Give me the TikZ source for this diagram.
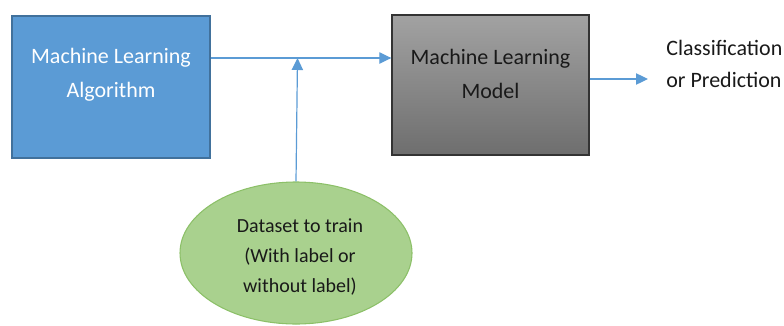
\documentclass[tikz,border=0pt]{standalone}
\usepackage{fontspec}
\setmainfont{Carlito}
\usetikzlibrary{arrows.meta,shapes.geometric}
\definecolor{bluefill}{HTML}{5B9BD5}
\definecolor{blueline}{HTML}{41719C}
\definecolor{arrowblue}{HTML}{5B9BD5}
\definecolor{greenfill}{HTML}{A9D18E}
\definecolor{greenline}{HTML}{8CC068}
\definecolor{graytop}{HTML}{A2A2A2}
\definecolor{graybot}{HTML}{6E6E6E}
\tikzset{
  algbox/.style={draw=blueline, line width=1.5pt, fill=bluefill, minimum width=198*0.75pt, minimum height=142*0.75pt, inner sep=0pt},
  modelbox/.style={draw=black!80, line width=1pt, top color=graytop, bottom color=graybot, minimum width=197*0.75pt, minimum height=140*0.75pt, inner sep=0pt},
  dataell/.style={ellipse, draw=greenline, line width=0.8pt, fill=greenfill, minimum width=232*0.75pt, minimum height=142*0.75pt, inner sep=0pt},
  bigtext/.style={font=\fontsize{16.5pt}{25.5pt}\selectfont, align=center, inner sep=0pt},
  smalltext/.style={font=\fontsize{15pt}{22.5pt}\selectfont, align=center, inner sep=0pt},
  outtext/.style={font=\fontsize{16.5pt}{23.5pt}\selectfont, align=left, inner sep=0pt, anchor=west},
  arr/.style={draw=arrowblue, line width=0.9pt, -{Triangle[length=9pt,width=8.5pt]}}
}
\begin{document}
\begin{tikzpicture}[x=0.75pt,y=-0.75pt]
\useasboundingbox (0,0) rectangle (784,325);
\node[algbox] (alg) at (111,87) {};
\node[bigtext, text=white] (algt) at (111,75) {Machine Learning\\Algorithm};
\node[modelbox] (model) at (490.5,85) {};
\node[bigtext, text=black!90] (modelt) at (490.5,74) {Machine Learning\\Model};
\node[dataell] (data) at (296,253) {};
\node[smalltext, text=black!90] (datat) at (300,257) {Dataset to train\\(With label or\\without label)};
\node[outtext, text=black!90] (out) at (666,64) {Classification\\or Prediction};
\coordinate (in) at (alg.east |- 0,58);
\coordinate (j) at (297.5,58);
\coordinate (mi) at (model.west |- 0,58);
\draw[arr] (in) -- (mi);
\draw[arr] (data.north) -- (j);
\coordinate (mo) at (model.east |- 0,79);
\coordinate (oo) at (648,79);
\draw[arr] (mo) -- (oo);
\end{tikzpicture}
\end{document}
